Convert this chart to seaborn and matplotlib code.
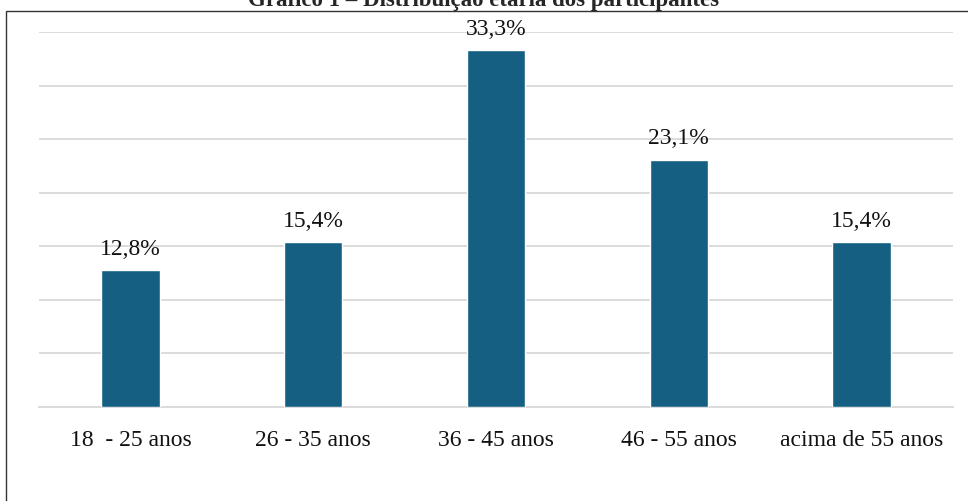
import matplotlib
matplotlib.use("Agg")
import matplotlib.pyplot as plt
import seaborn as sns
import pandas as pd
from matplotlib.patches import Rectangle

# data
faixas = ["18  - 25 anos", "26 - 35 anos", "36 - 45 anos", "46 - 55 anos", "acima de 55 anos"]
percentuais = [12.8, 15.4, 33.3, 23.1, 15.4]
rotulos = ["12,8%", "15,4%", "33,3%", "23,1%", "15,4%"]

df = pd.DataFrame({"faixa": faixas, "pct": percentuais})

sns.set_style("white")
plt.rcParams["font.family"] = ["Liberation Serif", "DejaVu Serif"]

fig = plt.figure(figsize=(9.68, 5.02), dpi=100)
ax = fig.add_axes([39 / 968, 1 - 408 / 502, (953 - 39) / 968, (408 - 33) / 502])

sns.barplot(data=df, x="faixa", y="pct", color="#156082", saturation=1, width=0.32, ax=ax, zorder=3)

ax.set_ylim(0, 35)
ax.set_yticks(range(0, 36, 5))
ax.yaxis.grid(True, color="#d9d9d9", linewidth=1.3, zorder=0)
ax.set_axisbelow(True)
for s in ["top", "right", "left"]:
    ax.spines[s].set_visible(False)
ax.spines["bottom"].set_color("#d9d9d9")
ax.spines["bottom"].set_linewidth(1.3)
ax.tick_params(axis="y", left=False, labelleft=False)
ax.tick_params(axis="x", bottom=False, pad=12, labelsize=17, labelcolor="#111111")
ax.set_xlabel("")
ax.set_ylabel("")

for p, txt in zip(ax.patches, rotulos):
    ax.annotate(txt, (p.get_x() + p.get_width() / 2, p.get_height()),
                xytext=(0, 8), textcoords="offset points",
                ha="center", va="bottom", fontsize=17, color="#111111")

# outer frame of the chart area (runs off the right and bottom edges)
frame = Rectangle((6 / 968, -0.1), 1.1, 1.1 - 12 / 502, transform=fig.transFigure,
                  fill=False, edgecolor="#333333", linewidth=1.0)
fig.patches.append(frame)

fig.text(0.5, 1 - 6 / 502, "Gráfico 1 – Distribuição etária dos participantes",
         ha="center", va="baseline", fontsize=16.5, fontweight="bold")

fig.savefig("out.png", dpi=100)
